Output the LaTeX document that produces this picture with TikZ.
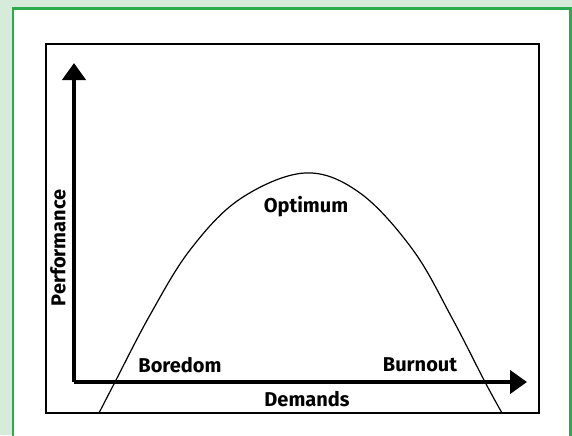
\documentclass[tikz,border=0pt]{standalone}
\usepackage{fontspec}
\setmainfont{Fira Sans}
\usetikzlibrary{arrows.meta}
\definecolor{pgBack}{HTML}{D6EBD9}
\definecolor{pgEdge}{HTML}{2DAA4E}
\tikzset{
  frame/.style={draw=black, line width=0.7pt},
  axis/.style={line width=2.2pt, -{Triangle[length=8.5pt, width=11.5pt]}},
  curve/.style={line width=0.6pt},
  lbl/.style={font=\fontsize{10}{12}\selectfont\bfseries, inner sep=1pt},
}

\begin{document}
\begin{tikzpicture}[x=0.5pt,y=-0.5pt]
\useasboundingbox (0,0) rectangle (572,435);
% ================= page =================
\fill[pgBack] (0,0) rectangle (572,435);
\filldraw[fill=white, draw=pgEdge, line width=1.1pt] (13,8.5) rectangle (570.5,445);
% ================= box and axes =================
\draw[frame] (46,44) rectangle (539,413);
\coordinate (origin) at (74,382);
\coordinate (ytip) at (74,63);
\coordinate (xtip) at (527,382);
\draw[axis] (origin) -- (ytip);
\draw[axis] (origin) -- (xtip);
% ================= curve =================
\draw[curve] plot[smooth, tension=0.6] coordinates {(99,413) (115,382) (150,315) (190,250) (240,199) (305,173) (360,193) (413,250) (452,318) (485,382) (502,413)};
% ================= labels =================
\node[lbl] (optimum) at (306,207) {Optimum};
\node[lbl] (boredom) at (180,365) {Boredom};
\node[lbl] (burnout) at (420,365) {Burnout};
\node[lbl] (demands) at (307,399) {Demands};
\node[lbl, rotate=90] (perf) at (58,248) {Performance};
\end{tikzpicture}
\end{document}
